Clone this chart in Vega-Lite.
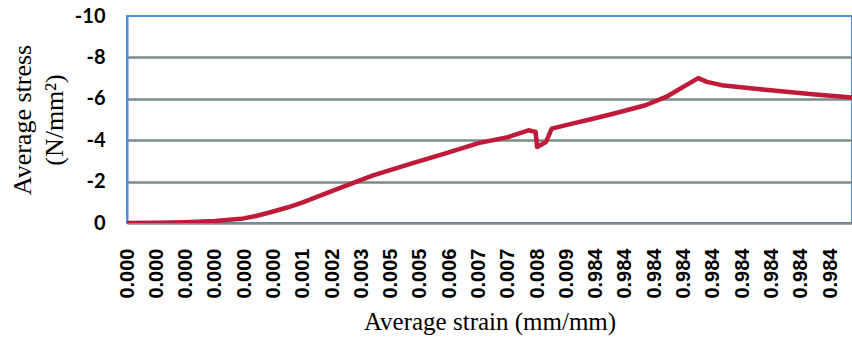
{
  "$schema": "https://vega.github.io/schema/vega-lite/v6.json",
  "width": 725,
  "height": 207,
  "autosize": "none",
  "padding": {"left": 127, "top": 16, "right": 0, "bottom": 117},
  "background": "white",
  "config": {"view": {"stroke": "#4a8ef0", "strokeWidth": 2}},
  "data": {"values": [
    {"sample": 0, "stress": 0},
    {"sample": 10, "stress": -0.01},
    {"sample": 20, "stress": -0.04},
    {"sample": 30, "stress": -0.1},
    {"sample": 39, "stress": -0.2},
    {"sample": 44, "stress": -0.34},
    {"sample": 49, "stress": -0.52},
    {"sample": 55, "stress": -0.76},
    {"sample": 60, "stress": -1.0},
    {"sample": 71, "stress": -1.6},
    {"sample": 84, "stress": -2.3},
    {"sample": 97, "stress": -2.87},
    {"sample": 109, "stress": -3.38},
    {"sample": 120, "stress": -3.86},
    {"sample": 130, "stress": -4.15},
    {"sample": 137, "stress": -4.48},
    {"sample": 139.5, "stress": -4.4},
    {"sample": 140, "stress": -3.67},
    {"sample": 143, "stress": -3.91},
    {"sample": 145, "stress": -4.56},
    {"sample": 152, "stress": -4.8},
    {"sample": 158, "stress": -5.0},
    {"sample": 166, "stress": -5.28},
    {"sample": 177, "stress": -5.69},
    {"sample": 184, "stress": -6.09},
    {"sample": 195, "stress": -7.0},
    {"sample": 198, "stress": -6.82},
    {"sample": 203, "stress": -6.66},
    {"sample": 217, "stress": -6.45},
    {"sample": 234, "stress": -6.22},
    {"sample": 247.5, "stress": -6.06}
  ]},
  "mark": {"type": "line", "color": "#c0193a", "strokeWidth": 4.5, "clip": true, "strokeJoin": "round", "strokeCap": "round"},
  "encoding": {
    "x": {
      "field": "sample",
      "type": "quantitative",
      "scale": {"domain": [0, 247.5], "nice": false, "zero": false},
      "axis": {
        "values": [0,10,20,30,40,50,60,70,80,90,100,110,120,130,140,150,160,170,180,190,200,210,220,230,240],
        "labelExpr": "['0.000','0.000','0.000','0.000','0.000','0.000','0.001','0.002','0.003','0.005','0.005','0.006','0.007','0.007','0.008','0.009','0.984','0.984','0.984','0.984','0.984','0.984','0.984','0.984','0.984'][round(datum.value/10)]",
        "labelAngle": -90,
        "labelFont": "Liberation Sans",
        "labelFontWeight": "bold",
        "labelFontSize": 20,
        "labelColor": "black",
        "labelPadding": 25,
        "labelOverlap": false,
        "labelFlush": false,
        "ticks": false,
        "domain": false,
        "grid": false,
        "title": "Average strain (mm/mm)",
        "titleFont": "Liberation Serif",
        "titleFontWeight": "normal",
        "titleFontSize": 25,
        "titleColor": "black",
        "titlePadding": 11
      }
    },
    "y": {
      "field": "stress",
      "type": "quantitative",
      "scale": {"domain": [0, -10], "nice": false, "zero": false},
      "axis": {
        "values": [0, -2, -4, -6, -8, -10],
        "labelExpr": "datum.value == 0 ? '0' : '-' + abs(datum.value)",
        "labelFont": "Lato",
        "labelFontWeight": "bold",
        "labelFontSize": 20,
        "labelColor": "black",
        "labelPadding": 22,
        "ticks": false,
        "domainColor": "#4a8ef0",
        "domainWidth": 2,
        "grid": true,
        "gridColor": {"condition": {"test": "datum.value == -10", "value": "transparent"}, "value": "#7b8b88"},
        "gridWidth": 2.5,
        "title": ["Average stress", "(N/mm²)"],
        "titleFont": "Liberation Serif",
        "titleFontWeight": "normal",
        "titleFontSize": 26,
        "titleColor": "black",
        "titlePadding": 7,
        "titleLineHeight": 32
      }
    }
  }
}
